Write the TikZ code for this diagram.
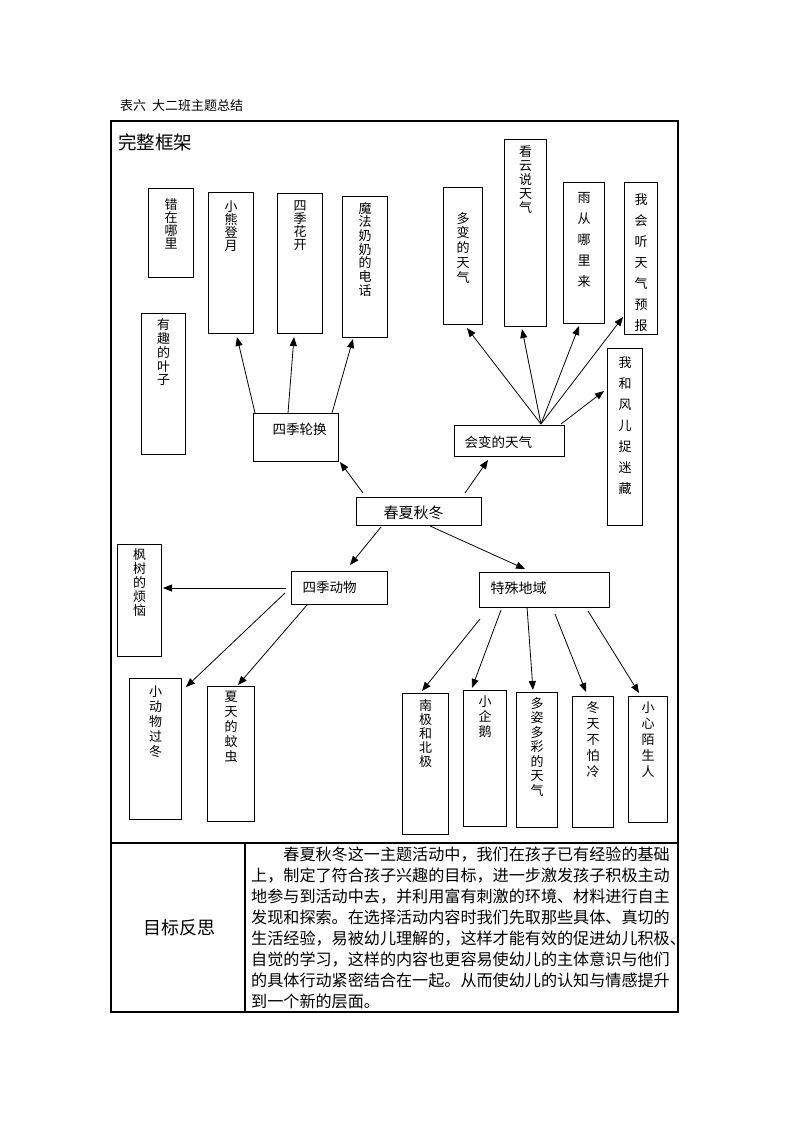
\documentclass[tikz,border=0pt]{standalone}
\usepackage{fontspec}
\setmainfont{Noto Sans CJK SC}
\usepackage{tikz}
\usetikzlibrary{arrows.meta,calc}

% vertical text in a box: width, height, top gap, line pitch, text
\newcommand{\vtext}[5]{\parbox[c][#2pt][t]{#1pt}{\centering\fontsize{13}{#4pt}\selectfont\vspace*{#3pt}#5}}
% horizontal text in a box: width, height, top gap, left indent, size, text
\newcommand{\htext}[6]{\parbox[c][#2pt][t]{#1pt}{\fontsize{#5}{#5}\selectfont\vspace*{#3pt}\hspace*{#4pt}#6}}

\tikzset{
  box/.style={draw, line width=1.1pt, inner sep=0pt, anchor=north west},
  arr/.style={line width=0.8pt, -{Triangle[length=9pt,width=7pt]}},
  frame/.style={line width=1.2pt}
}

\begin{document}
\begin{tikzpicture}[x=1pt,y=-1pt]
  \useasboundingbox (0,0) rectangle (793,1122);

  % Table
  \node[anchor=west, inner sep=0pt, font=\fontsize{13}{13}\selectfont] (title) at (120,106) {表六\ \ 大二班主题总结};
  \draw[frame] (111,121) rectangle (678,1012);
  \draw[frame] (111,843) -- (678,843);
  \draw[frame] (245,843) -- (245,1012);
  \node[anchor=west, inner sep=0pt, font=\fontsize{18.5}{18.5}\selectfont] (kuangjia) at (118,142) {完整框架};

  % Boxes
  \node[box] (cuozai) at (148,188) {\vtext{45}{89}{10.5}{13}{错\\在\\哪\\里}};
  \node[box] (xiaoxiong) at (208,192) {\vtext{45}{141}{8.5}{13}{小\\熊\\登\\月}};
  \node[box] (huakai) at (277,193) {\vtext{45}{140}{7.5}{13}{四\\季\\花\\开}};
  \node[box] (mofa) at (342,196) {\vtext{45}{141}{5.5}{13.7}{魔\\法\\奶\\奶\\的\\电\\话}};
  \node[box] (yezi) at (141,313) {\vtext{44}{141}{5.5}{13.7}{有\\趣\\的\\叶\\子}};
  \node[box] (lunhuan) at (253,413) {\htext{85}{48}{10}{19}{13.5}{四季轮换}};
  \node[box] (chunxia) at (356,497) {\htext{125}{28}{8.5}{27}{15}{春夏秋冬}};
  \node[box] (huibian) at (454,425) {\htext{110}{31}{10}{10}{13.5}{会变的天气}};
  \node[box] (duobian) at (443,187) {\vtext{39}{137}{24.5}{14.8}{多\\变\\的\\天\\气}};
  \node[box] (kanyun) at (504,139) {\vtext{42}{187}{6.5}{14}{看\\云\\说\\天\\气}};
  \node[box] (yucong) at (563,182) {\vtext{41}{141}{9.5}{21}{雨\\从\\哪\\里\\来}};
  \node[box] (yubao) at (624,182) {\vtext{33}{152}{11.5}{21}{我\\会\\听\\天\\气\\预\\报}};
  \node[box] (zhuomi) at (607,348) {\vtext{35}{177}{8.5}{21}{我\\和\\风\\儿\\捉\\迷\\藏}};
  \node[box] (fengshu) at (117,544) {\vtext{44}{112}{4.5}{14}{枫\\树\\的\\烦\\恼}};
  \node[box] (dongwu) at (291,571) {\htext{96}{33}{10}{11}{13.5}{四季动物}};
  \node[box] (guodong) at (129,678) {\vtext{52}{141}{7.5}{15}{小\\动\\物\\过\\冬}};
  \node[box] (wenchong) at (207,686) {\vtext{47}{135}{4.5}{15}{夏\\天\\的\\蚊\\虫}};
  \node[box] (diyu) at (479,572) {\htext{130}{35}{9}{11}{14}{特殊地域}};
  \node[box] (nanji) at (402,693) {\vtext{46}{141}{6.5}{14}{南\\极\\和\\北\\极}};
  \node[box] (qie) at (463,690) {\vtext{43}{136}{5.5}{15}{小\\企\\鹅}};
  \node[box] (duozi) at (516,692) {\vtext{41}{135}{4.5}{14.5}{多\\姿\\多\\彩\\的\\天\\气}};
  \node[box] (bupa) at (572,696) {\vtext{41}{131}{4.5}{16.2}{冬\\天\\不\\怕\\冷}};
  \node[box] (moshengren) at (628,696) {\vtext{39}{126}{5.5}{16}{小\\心\\陌\\生\\人}};

  % Arrows
  \foreach \from/\fx/\fy/\to/\tx/\ty in {
      lunhuan/2/0/xiaoxiong/29/145, lunhuan/35/0/huakai/17/144, lunhuan/79/0/mofa/11/143,
      chunxia/7/-4/lunhuan/87/49, chunxia/109/-4/huibian/34/35,
      huibian/87/-1/duobian/24/141, huibian/87/-1/kanyun/18/190,
      huibian/87/-1/yucong/16/144, huibian/87/-1/yubao/-1/135, huibian/107/-1/zhuomi/-3/43,
      chunxia/25/30/dongwu/59/-6, chunxia/74/29/diyu/46/-3,
      dongwu/-5/17/fengshu/46/44, dongwu/-6/22/guodong/57/9, dongwu/16/34/wenchong/31/-1,
      diyu/1/47/nanji/20/-2, diyu/22/38/qie/9/-2, diyu/48/35/duozi/17/-2,
      diyu/76/42/bupa/14/-4, diyu/109/39/moshengren/11/-3} {
    \draw[arr] ($(\from.north west)+(\fx,\fy)$) -- ($(\to.north west)+(\tx,\ty)$);
  }

  % Reflection
  \node[font=\fontsize{18}{18}\selectfont, inner sep=0pt] (fansi) at (179,928) {目标反思};
  \node[anchor=north west, inner sep=0pt, align=left, font=\fontsize{16.1}{21}\selectfont] (para) at (251,847) {%
    \hspace*{2em}春夏秋冬这一主题活动中，我们在孩子已有经验的基础\\
    上，制定了符合孩子兴趣的目标，进一步激发孩子积极主动\\
    地参与到活动中去，并利用富有刺激的环境、材料进行自主\\
    发现和探索。在选择活动内容时我们先取那些具体、真切的\\
    生活经验，易被幼儿理解的，这样才能有效的促进幼儿积极、\\
    自觉的学习，这样的内容也更容易使幼儿的主体意识与他们\\
    的具体行动紧密结合在一起。从而使幼儿的认知与情感提升\\
    到一个新的层面。};
\end{tikzpicture}
\end{document}
